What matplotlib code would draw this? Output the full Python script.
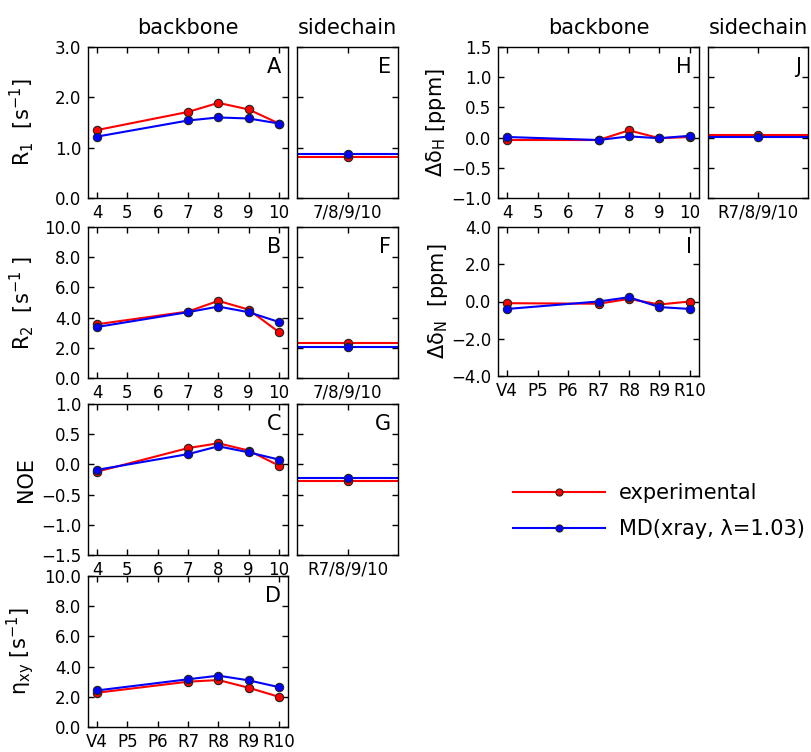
import matplotlib
matplotlib.use("Agg")
import matplotlib.pyplot as plt

plt.rcParams['font.family'] = ['DejaVu Sans']
plt.rcParams['axes.unicode_minus'] = True
plt.rcParams['mathtext.default'] = 'regular'

# ---------------- data ----------------
residues = [4, 7, 8, 9, 10]
bb_ticks = [4, 5, 6, 7, 8, 9, 10]
bb_num_labels = ['4', '5', '6', '7', '8', '9', '10']
bb_res_labels = ['V4', 'P5', 'P6', 'R7', 'R8', 'R9', 'R10']
sc_label_num = '7/8/9/10'
sc_label_res = 'R7/8/9/10'

R1_exp = [1.35, 1.71, 1.89, 1.76, 1.48]
R1_md = [1.22, 1.54, 1.60, 1.58, 1.48]
R1_sc_exp = 0.82
R1_sc_md = 0.87

R2_exp = [3.56, 4.40, 5.11, 4.53, 3.04]
R2_md = [3.38, 4.36, 4.73, 4.36, 3.71]
R2_sc_exp = 2.33
R2_sc_md = 2.04

NOE_exp = [-0.12, 0.27, 0.35, 0.23, -0.02]
NOE_md = [-0.09, 0.17, 0.30, 0.20, 0.08]
NOE_sc_exp = -0.28
NOE_sc_md = -0.22

eta_exp = [2.27, 3.00, 3.11, 2.60, 2.00]
eta_md = [2.42, 3.16, 3.40, 3.09, 2.64]

dH_exp = [-0.04, -0.04, 0.12, -0.01, 0.01]
dH_md = [0.01, -0.04, 0.02, -0.01, 0.03]
dH_sc_exp = 0.045
dH_sc_md = 0.005

dN_exp = [-0.09, -0.12, 0.14, -0.16, 0.00]
dN_md = [-0.40, 0.00, 0.23, -0.30, -0.40]

label_exp = 'experimental'
label_md = 'MD(xray, λ=1.03)'

# ---------------- layout ----------------
W, H = 811, 752
fig = plt.figure(figsize=(W / 100, H / 100), dpi=100)


def rect(x0, top, w, h=151):
    return [x0 / W, 1 - (top + h) / H, w / W, h / H]


RED = '#ff0000'
BLUE = '#0000ff'
line_kw = dict(lw=1.5, marker='o', ms=6, mec='#222222', mew=0.8)
TICKFS = 12


def style(ax):
    ax.tick_params(direction='in', top=True, right=True, length=4, width=1,
                   labelsize=TICKFS)
    ax.tick_params(axis='x', pad=4)
    ax.tick_params(axis='y', pad=5)
    for s in ax.spines.values():
        s.set_linewidth(1.0)


def letter(ax, t):
    ax.annotate(t, xy=(1, 1), xycoords='axes fraction', xytext=(-5, -7),
                textcoords='offset points', ha='right', va='top', fontsize=15)


def fmt(v):
    return '%.1f' % v if v >= 0 else '\u2212%.1f' % abs(v)


def backbone(ax, exp, md, ylim, yticks, ylabel, xlabels, lab, labx=-0.26):
    l1, = ax.plot(residues, exp, color=RED, mfc=RED, **line_kw)
    l2, = ax.plot(residues, md, color=BLUE, mfc=BLUE, **line_kw)
    ax.set_xlim(3.7, 10.3)
    ax.set_ylim(*ylim)
    ax.set_xticks(bb_ticks)
    ax.set_xticklabels(xlabels)
    ax.set_yticks(yticks)
    ax.set_yticklabels([fmt(v) for v in yticks])
    ax.set_ylabel(ylabel, fontsize=15)
    ax.yaxis.set_label_coords(labx, 0.5)
    style(ax)
    letter(ax, lab)
    return l1, l2


def sidechain(ax, e, m, ylim, yticks, xlabel, lab):
    ax.axhline(e, color=RED, lw=1.5)
    ax.axhline(m, color=BLUE, lw=1.5)
    ax.plot([1], [e], color=RED, mfc=RED, **line_kw)
    ax.plot([1], [m], color=BLUE, mfc=BLUE, **line_kw)
    ax.set_xlim(0, 2)
    ax.set_ylim(*ylim)
    ax.set_xticks([1])
    ax.set_xticklabels([xlabel])
    ax.set_yticks(yticks)
    ax.set_yticklabels([])
    style(ax)
    letter(ax, lab)


tops = [47, 227, 404, 576]

axA = fig.add_axes(rect(88, tops[0], 200))
axE = fig.add_axes(rect(297, tops[0], 101))
axB = fig.add_axes(rect(88, tops[1], 200))
axF = fig.add_axes(rect(297, tops[1], 101))
axC = fig.add_axes(rect(88, tops[2], 200))
axG = fig.add_axes(rect(297, tops[2], 101))
axD = fig.add_axes(rect(88, tops[3], 200))
axH = fig.add_axes(rect(498, tops[0], 201))
axJ = fig.add_axes(rect(708, tops[0], 100))
axI = fig.add_axes(rect(498, tops[1], 201, 149))

yA = [0.0, 1.0, 2.0, 3.0]
yB = [0.0, 2.0, 4.0, 6.0, 8.0, 10.0]
yC = [-1.5, -1.0, -0.5, 0.0, 0.5, 1.0]
yH = [-1.0, -0.5, 0.0, 0.5, 1.0, 1.5]
yI = [-4.0, -2.0, 0.0, 2.0, 4.0]

lexp, lmd = backbone(axA, R1_exp, R1_md, (0, 3), yA, r'R$_1$  [s$^{-1}$]', bb_num_labels, 'A')
sidechain(axE, R1_sc_exp, R1_sc_md, (0, 3), yA, sc_label_num, 'E')
backbone(axB, R2_exp, R2_md, (0, 10), yB, r'R$_2$  [s$^{-1}$ ]', bb_num_labels, 'B')
sidechain(axF, R2_sc_exp, R2_sc_md, (0, 10), yB, sc_label_num, 'F')
backbone(axC, NOE_exp, NOE_md, (-1.5, 1.0), yC, 'NOE', bb_num_labels, 'C')
sidechain(axG, NOE_sc_exp, NOE_sc_md, (-1.5, 1.0), yC, sc_label_res, 'G')
backbone(axD, eta_exp, eta_md, (0, 10), yB, r'$\eta_{xy}$ [s$^{-1}$]', bb_res_labels, 'D')
backbone(axH, dH_exp, dH_md, (-1.0, 1.5), yH, r'$\Delta\delta_H$ [ppm]', bb_num_labels, 'H', labx=-0.25)
sidechain(axJ, dH_sc_exp, dH_sc_md, (-1.0, 1.5), yH, sc_label_res, 'J')
backbone(axI, dN_exp, dN_md, (-4.0, 4.0), yI, r'$\Delta\delta_N$  [ppm]', bb_res_labels, 'I', labx=-0.24)

for ax, t in [(axA, 'backbone'), (axE, 'sidechain'), (axH, 'backbone'), (axJ, 'sidechain')]:
    ax.set_title(t, fontsize=15, pad=9)

leg = fig.legend([lexp, lmd], [label_exp, label_md], loc='center left',
                 bbox_to_anchor=(513 / W, 1 - 511 / H), frameon=False,
                 fontsize=15, handlelength=4.4, handletextpad=0.7,
                 markerscale=0.85, borderpad=0, borderaxespad=0,
                 labelspacing=0.75)

fig.savefig('out.png', dpi=100)
